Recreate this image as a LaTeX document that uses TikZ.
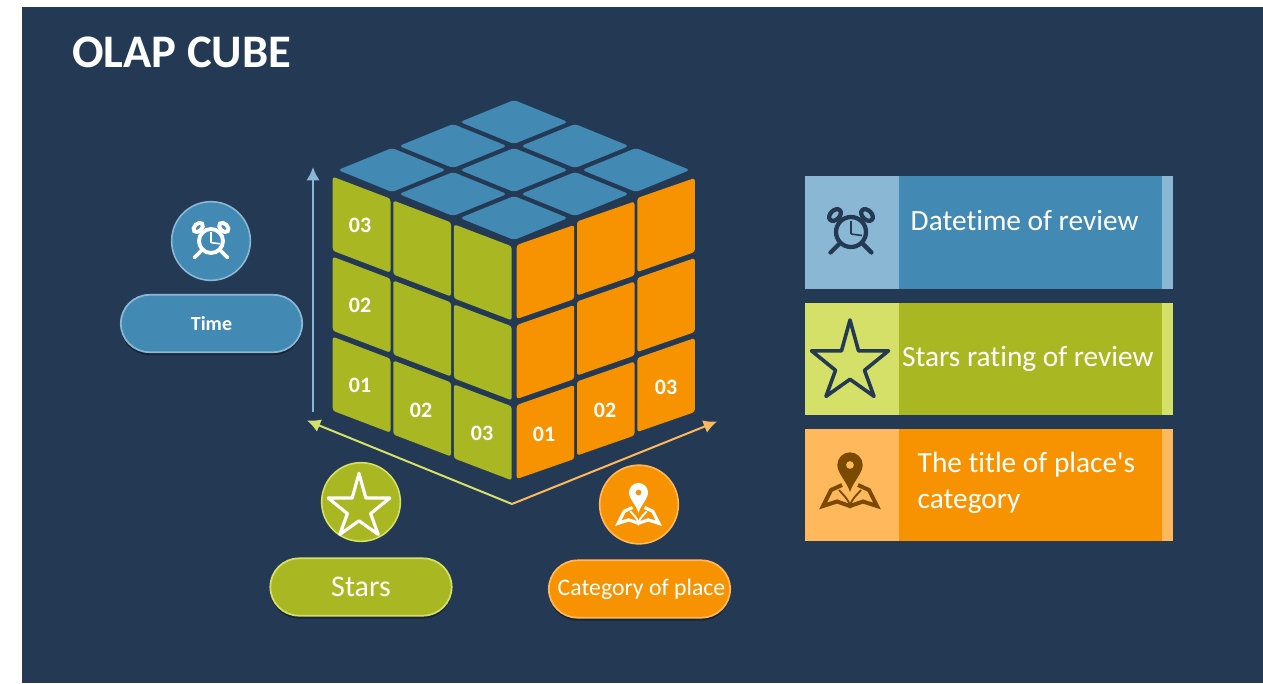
\documentclass[tikz,border=0pt]{standalone}
\usepackage{fontspec}
\setmainfont{Carlito}[Ligatures=NoCommon]
\usetikzlibrary{arrows.meta}
\usetikzlibrary{shapes.misc}
\usetikzlibrary{shadows}
\definecolor{navybg}{HTML}{243A54}
\definecolor{bluefill}{HTML}{4289B4}
\definecolor{bluelight}{HTML}{8AB8D4}
\definecolor{greenfill}{HTML}{A9B722}
\definecolor{greenlight}{HTML}{D4E067}
\definecolor{orangefill}{HTML}{F79300}
\definecolor{orangelight}{HTML}{FFB95C}
\definecolor{pinbrown}{HTML}{7A4A00}
\tikzset{
  tilelabel/.style={text=white, font=\bfseries\fontsize{16.5}{16.5}\selectfont},
  barlabel/.style={text=white, anchor=west, align=left, font=\fontsize{22}{27}\selectfont},
  badge/.style={circle, draw=#1, line width=1.2pt, minimum size=59pt, inner sep=0pt},
  pill/.style={rounded rectangle, draw=#1, line width=1.3pt, minimum width=136pt, minimum height=43pt,
    inner sep=0pt, text=white, drop shadow={opacity=0.5, shadow xshift=0pt, shadow yshift=-2.2pt, fill=black!70!navybg}},
  pics/clockicon/.style={code={
    \draw [#1] (0, 0) circle (15);
    \draw [#1, shift={(-16, -17)}, rotate=45] (0, 0) ellipse (6.8 and 4.6);
    \draw [#1, shift={(16, -17)}, rotate=-45] (0, 0) ellipse (6.8 and 4.6);
    \draw [#1, line cap=round] (-11, 11) -- (-20.5, 20.5);
    \draw [#1, line cap=round] (11, 11) -- (20.5, 20.5);
    \draw [#1, line width=1.2pt] (0, 2) -- (0, -11);
    \draw [#1, line width=1.2pt] (0, 2) -- (11, 3.5);
  }},
  pics/staricon/.style={code={
    \draw [#1, line join=round] (0, -38.3) -- (8.5, -7.5) -- (38.5, -7.5) -- (14.5, 12) -- (24, 38)
      -- (0, 21) -- (-24, 38) -- (-14.5, 12) -- (-38.5, -7.5) -- (-8.5, -7.5) -- cycle;
  }},
  pics/pinicon/.style={code={
    \fill [#1, even odd rule] (0, 27) .. controls (-3, 17) and (-12.7, 8) .. (-12.7, 0)
      arc (180:360:12.7) .. controls (12.7, 8) and (3, 17) .. (0, 27) -- cycle (0, 0) circle (4);
    \draw [#1, line join=miter] (-8, 20) -- (-19, 25) -- (-27, 41) -- (-13, 36.5) -- (0, 41)
      -- (13, 36.5) -- (27, 41) -- (19, 25) -- (8, 20);
    \draw [#1, line width=1.4pt] (-11, 25) .. controls (-7, 30) and (-2, 33) .. (0, 41)
      .. controls (2, 33) and (7, 30) .. (11, 25);
  }}
}

\begin{document}
\begin{tikzpicture}[x=0.75pt, y=-0.75pt]
    \useasboundingbox (0, 0) rectangle (1263, 683);
    \fill [navybg] (22, 7) rectangle (1263, 683);

    \node (title) [anchor=west, text=white, font=\bfseries\fontsize{35}{35}\selectfont] at (67.5, 52) {OLAP CUBE};

    % top of the cube
    \foreach \a in {0, 1, 2} {
      \foreach \b in {0, 1, 2} {
        \fill [bluefill, rounded corners=2.5pt] ({514 + 61*(\a - \b) - 54}, {122 + 24*(\a + \b)}) -- ++(54, -22)
          -- ++(54, 22) -- ++(-54, 22) -- cycle;
      }
    }

    % left and right faces
    \foreach \c in {0, 1, 2} {
      \foreach \r in {0, 1, 2} {
        \fill [greenfill, rounded corners=2pt] ({332.7 + 60.6*\c}, {176.7 + 23.8*\c + 80*\r}) -- ++(57.8, 22)
          -- ++(0, 74) -- ++(-57.8, -22) -- cycle;
        \fill [orangefill, rounded corners=2pt] ({516.7 + 60.3*\c}, {245 - 23.5*\c + 80*\r}) -- ++(57.5, -20)
          -- ++(0, 74) -- ++(-57.5, 20) -- cycle;
      }
    }

    \node (leftthree) [tilelabel] at (360, 225) {03};
    \node (lefttwo) [tilelabel] at (360, 305) {02};
    \node (leftone) [tilelabel] at (360, 385) {01};
    \node (bottomtwo) [tilelabel] at (421, 410) {02};
    \node (bottomthree) [tilelabel] at (482, 433) {03};
    \node (rightone) [tilelabel] at (544, 434) {01};
    \node (righttwo) [tilelabel] at (605, 410) {02};
    \node (rightthree) [tilelabel] at (666, 387) {03};

    % axes
    \coordinate (corner) at (512, 504);
    \coordinate (timestart) at (313, 412);
    \coordinate (timeend) at (313, 167);
    \coordinate (starsend) at (307, 420.5);
    \coordinate (placeend) at (717, 421.5);
    \draw [-{Latex[length=10pt, width=10pt]}, bluelight, line width=1.5pt] (timestart) -- (timeend);
    \draw [-{Latex[length=10pt, width=10pt]}, greenlight, line width=1.5pt] (corner) -- (starsend);
    \draw [-{Latex[length=10pt, width=10pt]}, orangelight, line width=1.5pt] (corner) -- (placeend);

    % badges and pills
    \node (timebadge) [badge=bluelight, fill=bluefill] at (211, 241) {};
    \node (starsbadge) [badge=greenlight, fill=greenfill] at (361, 502) {};
    \node (placebadge) [badge=orangelight, fill=orangefill] at (639, 504.5) {};
    \pic [scale=0.8, line width=2.9pt] at (211, 241) {clockicon=white};
    \pic [scale=0.8, line width=2.4pt] at (359, 504) {staricon=white};
    \pic [scale=0.75, line width=2.4pt] at (638.5, 492.5) {pinicon=white};

    \node (timepill) [pill=bluelight, fill=bluefill, font=\bfseries\fontsize{15}{15}\selectfont] at (211.5, 323.5) {Time};
    \node (starspill) [pill=greenlight, fill=greenfill, font=\fontsize{22.5}{22.5}\selectfont] at (361, 587) {Stars};
    \node (placepill) [pill=orangelight, fill=orangefill, font=\fontsize{17.8}{17.8}\selectfont] at (639.5, 589) {\hspace{3pt}Category of place};

    % bars on the right
    \fill [bluefill] (804.5, 176) rectangle (1172.5, 288.5);
    \fill [bluelight] (804.5, 176) rectangle (898.5, 288.5);
    \fill [bluelight] (1161.5, 176) rectangle (1172.5, 288.5);
    \fill [greenfill] (804.5, 302.5) rectangle (1172.5, 415);
    \fill [greenlight] (804.5, 302.5) rectangle (898.5, 415);
    \fill [greenlight] (1161.5, 302.5) rectangle (1172.5, 415);
    \fill [orangefill] (804.5, 429) rectangle (1172.5, 541);
    \fill [orangelight] (804.5, 429) rectangle (898.5, 541);
    \fill [orangelight] (1161.5, 429) rectangle (1172.5, 541);

    \pic [line width=3.2pt] at (851, 232) {clockicon=navybg};
    \pic [line width=2.7pt] at (850, 358.3) {staricon=navybg};
    \pic [line width=3pt] at (850, 465) {pinicon=pinbrown};

    \node (datelabel) [barlabel] at (906, 221) {Datetime of review};
    \node (ratinglabel) [barlabel] at (897.5, 359) {Stars rating of review};
    \node (categorylabel) [barlabel] at (913, 482.5) {The title of place\textquotesingle s\\category};
  \end{tikzpicture}
\end{document}
